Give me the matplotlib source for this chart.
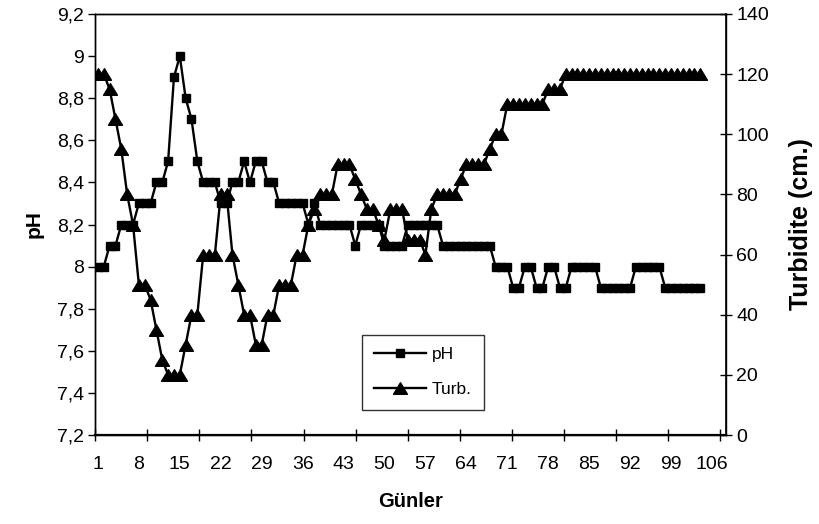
import matplotlib
matplotlib.use("Agg")
import matplotlib.pyplot as plt
from matplotlib.ticker import FixedLocator, FuncFormatter
from matplotlib.path import Path

plt.rcParams['font.family'] = ['Liberation Sans', 'DejaVu Sans']

days = list(range(1, 105))

ph = [8.0, 8.0, 8.1, 8.1, 8.2, 8.2, 8.2, 8.3, 8.3, 8.3,
      8.4, 8.4, 8.5, 8.9, 9.0, 8.8, 8.7, 8.5, 8.4, 8.4,
      8.4, 8.3, 8.3, 8.4, 8.4, 8.5, 8.4, 8.5, 8.5, 8.4,
      8.4, 8.3, 8.3, 8.3, 8.3, 8.3, 8.2, 8.3, 8.2, 8.2,
      8.2, 8.2, 8.2, 8.2, 8.1, 8.2, 8.2, 8.2, 8.2, 8.1,
      8.1, 8.1, 8.1, 8.2, 8.2, 8.2, 8.2, 8.2, 8.2, 8.1,
      8.1, 8.1, 8.1, 8.1, 8.1, 8.1, 8.1, 8.1, 8.0, 8.0,
      8.0, 7.9, 7.9, 8.0, 8.0, 7.9, 7.9, 8.0, 8.0, 7.9,
      7.9, 8.0, 8.0, 8.0, 8.0, 8.0, 7.9, 7.9, 7.9, 7.9,
      7.9, 7.9, 8.0, 8.0, 8.0, 8.0, 8.0, 7.9, 7.9, 7.9,
      7.9, 7.9, 7.9, 7.9]

turb = [120, 120, 115, 105, 95, 80, 70, 50, 50, 45,
        35, 25, 20, 20, 20, 30, 40, 40, 60, 60,
        60, 80, 80, 60, 50, 40, 40, 30, 30, 40,
        40, 50, 50, 50, 60, 60, 70, 75, 80, 80,
        80, 90, 90, 90, 85, 80, 75, 75, 70, 65,
        75, 75, 75, 65, 65, 65, 60, 75, 80, 80,
        80, 80, 85, 90, 90, 90, 90, 95, 100, 100,
        110, 110, 110, 110, 110, 110, 110, 115, 115, 115,
        120, 120, 120, 120, 120, 120, 120, 120, 120, 120,
        120, 120, 120, 120, 120, 120, 120, 120, 120, 120,
        120, 120, 120, 120]

xtick_labels = [1, 8, 15, 22, 29, 36, 43, 50, 57, 64, 71, 78, 85, 92, 99, 106]
ph_ticks = [7.2, 7.4, 7.6, 7.8, 8.0, 8.2, 8.4, 8.6, 8.8, 9.0, 9.2]
turb_ticks = [0, 20, 40, 60, 80, 100, 120, 140]

fig = plt.figure(figsize=(8.19, 5.24), dpi=100)
ax = fig.add_axes([95.3/819, 1-435/524, 630.7/819, 421/524])
ax2 = ax.twinx()

L = 0.55
R = L + 630.7/5.848
ax.set_xlim(L, R)
ax.set_ylim(7.2, 9.2)
ax2.set_ylim(0, 140)

tri = Path([(-1.2, -1), (1.2, -1), (0, 1), (-1.2, -1)],
           [Path.MOVETO, Path.LINETO, Path.LINETO, Path.CLOSEPOLY])

l1, = ax.plot(days, ph, color='black', lw=1.7, marker='s', markersize=6,
              markerfacecolor='black', markeredgecolor='black', label='pH')
l2, = ax2.plot(days, turb, color='black', lw=1.7, marker=tri, markersize=10,
               markerfacecolor='black', markeredgecolor='black', label='Turb.')

# x axis: labels every 7 days, tick marks on a separate grid
ax.set_xticks(xtick_labels)
ax.set_xticklabels([str(v) for v in xtick_labels])
step = 52.05/5.848
ax.xaxis.set_minor_locator(FixedLocator([L + k*step for k in range(13)]))
ax.tick_params(axis='x', which='major', length=0, pad=15, labelsize=14)
ax.tick_params(axis='x', which='minor', length=9, direction='inout', width=1)

ax.set_yticks(ph_ticks)
ax.yaxis.set_major_formatter(FuncFormatter(lambda v, p: ('%g' % round(v, 1)).replace('.', ',')))
ax.tick_params(axis='y', length=5, direction='out', width=1, labelsize=14, pad=3)

ax2.set_yticks(turb_ticks)
ax2.tick_params(axis='y', length=9, direction='inout', width=1, labelsize=14, pad=3)

for a in (ax, ax2):
    for s in a.spines.values():
        s.set_linewidth(1.0)
        s.set_color('black')
ax2.spines['right'].set_linewidth(1.2)
ax.spines['bottom'].set_linewidth(1.6)

ax.set_ylabel('pH', fontsize=15, fontweight='bold', labelpad=10)
ax2.set_ylabel('Turbidite (cm.)', fontsize=18, fontweight='bold', labelpad=14)
ax.set_xlabel('Günler', fontsize=14.5, fontweight='bold', labelpad=14)

leg = ax2.legend([l1, l2], ['pH', 'Turb.'], loc='upper left',
                 bbox_to_anchor=((362-95.3)/630.7, (435-335)/421),
                 frameon=True, fancybox=False, edgecolor='black',
                 fontsize=12.5, handlelength=3.0, borderpad=0.7, labelspacing=1.15,
                 handletextpad=0.3, borderaxespad=0)
leg.get_frame().set_linewidth(1.0)

fig.savefig('out.png', dpi=100)
